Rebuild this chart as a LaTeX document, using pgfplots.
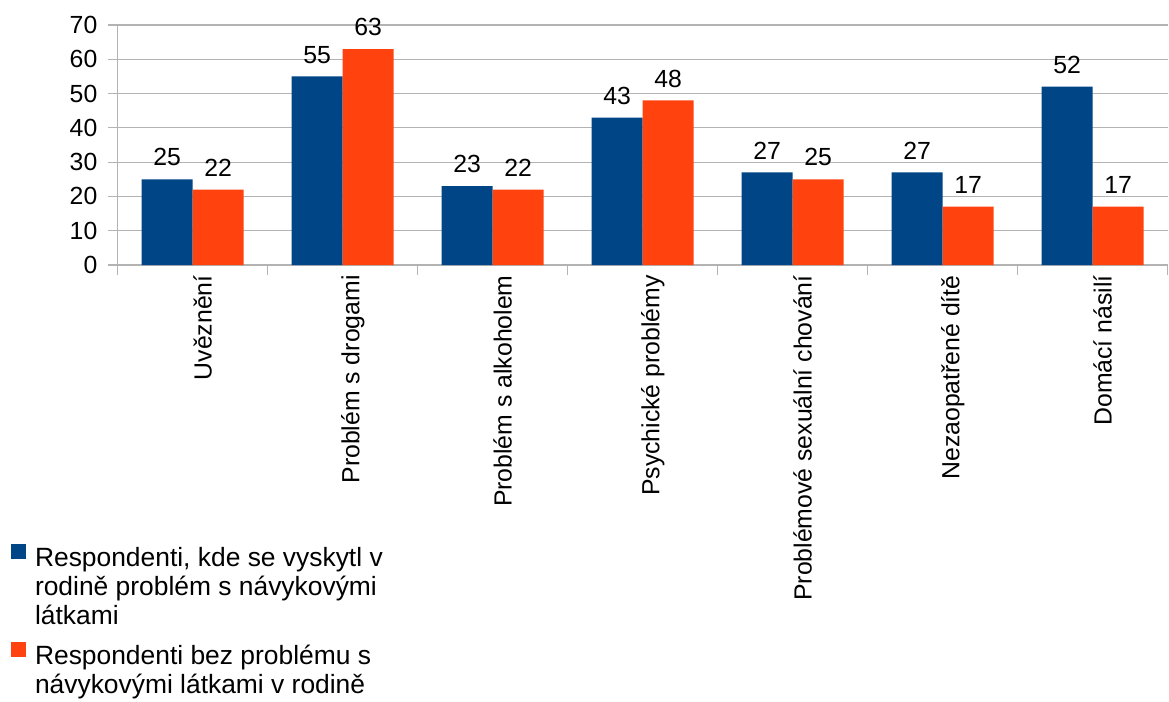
\documentclass[border=0pt]{standalone}
\usepackage{fontspec}
\setmainfont{Liberation Sans}
\usepackage{pgfplots}
\pgfplotsset{compat=1.18}
\definecolor{cblue}{HTML}{004586}
\definecolor{corange}{HTML}{FF420E}
\definecolor{cgrid}{HTML}{B3B3B3}
\pgfplotstableread{
x a b
0 25 22
1 55 63
2 23 22
3 43 48
4 27 25
5 27 17
6 52 17
}\datatable
\begin{document}
\begin{tikzpicture}
\useasboundingbox (-58.85pt,-218.5pt) rectangle (525.65pt,132.5pt);
\begin{axis}[
  at={(0,0)}, anchor=south west,
  scale only axis, width=525pt, height=120pt,
  ymin=0, ymax=70, ytick={0,10,...,70},
  xmin=-0.5, xmax=6.5,
  ybar=0pt, bar width=25.5pt,
  axis x line*=bottom, axis y line*=left,
  axis line style={-, draw=cgrid, line width=0.6pt},
  ymajorgrids, grid style={draw=cgrid, line width=0.6pt},
  tick align=outside, major tick length=5pt, minor tick length=5pt,
  tick style={draw=cgrid, line width=0.6pt},
  xtick={0,...,6},
  xticklabels={Uvěznění,Problém s drogami,Problém s alkoholem,Psychické problémy,Problémové sexuální chování,Nezaopatřené dítě,Domácí násilí},
  major x tick style={draw=none},
  minor xtick={-0.5,0.5,...,6.5},
  minor x tick style={draw=cgrid},
  x tick label style={rotate=90, anchor=east, font=\fontsize{12.4}{14}\selectfont, inner sep=0pt, yshift=-5pt},
  y tick label style={font=\fontsize{12.4}{14}\selectfont, inner sep=0pt, xshift=-5pt},
  /pgf/number format/assume math mode=true,
  nodes near coords,
  every node near coord/.append style={font=\fontsize{12.4}{14}\selectfont, text=black, yshift=3pt},
  legend style={at={(axis description cs:-0.1016,-1.1563)}, anchor=north west, draw=none, fill=none,
    font=\fontsize{13.2}{14.5}\selectfont, inner sep=0pt, outer sep=0pt, row sep=33pt,
    cells={anchor=base west, inner sep=0pt}},
  legend image code/.code={\fill[#1] (0pt,3.75pt) rectangle (7.5pt,11.25pt); \path (10pt,7pt);},
]
\addplot[fill=cblue, draw=none] table[x=x, y=a] {\datatable};
\addlegendentry{{\begin{tabular}[t]{@{}l@{}}Respondenti, kde se vyskytl v\\rodině problém s návykovými\\látkami\end{tabular}}}
\addplot[fill=corange, draw=none] table[x=x, y=b] {\datatable};
\addlegendentry{{\begin{tabular}[t]{@{}l@{}}Respondenti bez problému s\\návykovými látkami v rodině\end{tabular}}}
\end{axis}
\end{tikzpicture}
\end{document}
